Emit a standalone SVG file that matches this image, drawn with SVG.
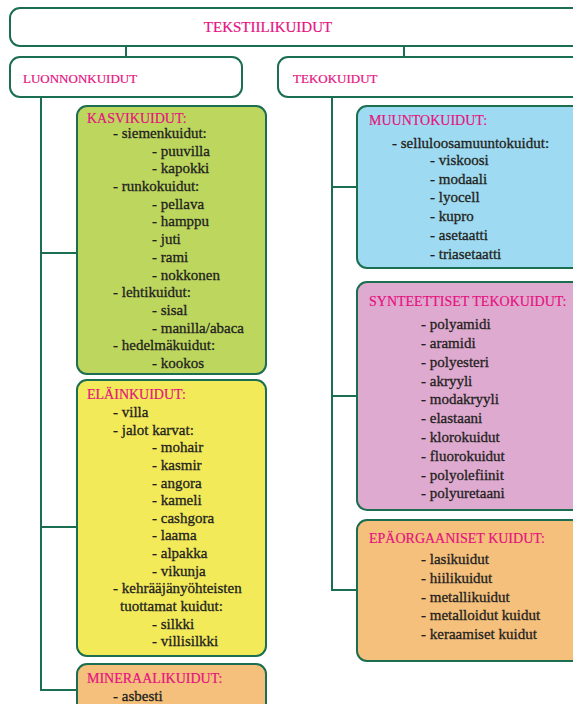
<svg xmlns="http://www.w3.org/2000/svg" width="573" height="704" viewBox="0 0 573 704">
<style>
.box{stroke:#1b6e4f;stroke-width:2}
.w{fill:#fff}
.g{fill:#bdd75e}
.y{fill:#f3ea5a}
.o{fill:#f5bf7c}
.b{fill:#9edbf2}
.p{fill:#dfaad0}
.t{font-family:"Liberation Serif","DejaVu Serif",serif;fill:#e5127f;stroke:#e5127f;stroke-width:0.2}
.h{font-size:14px}
.i{font-family:"Liberation Serif","DejaVu Serif",serif;font-size:15px;fill:#231f20;stroke:#231f20;stroke-width:0.3}
.c{fill:none;stroke:#1b6e4f;stroke-width:2}
</style>
<g id="connectors">
<path class="c" d="M126 46V57M404 46V57"/>
<path class="c" d="M41 97V690H77M41 253H77M41 527H77"/>
<path class="c" d="M332 97V590H357M332 187H357M332 396H357"/>
</g>
<g id="tekstiilikuidut">
<rect class="box w" x="10" y="8" width="580" height="38" rx="10"/>
<text class="t" x="268" y="32" font-size="15" text-anchor="middle">TEKSTIILIKUIDUT</text>
</g>
<g id="luonnonkuidut">
<rect class="box w" x="10" y="57" width="232" height="40" rx="10"/>
<text class="t" x="23" y="83" font-size="13">LUONNONKUIDUT</text>
</g>
<g id="tekokuidut">
<rect class="box w" x="278" y="57" width="310" height="40" rx="10"/>
<text class="t" x="293" y="83" font-size="13">TEKOKUIDUT</text>
</g>
<g id="kasvikuidut">
<rect class="box g" x="77" y="106" width="189" height="268" rx="10"/>
<text class="t h" x="87" y="123">KASVIKUIDUT:</text>
<text class="i" x="113" y="138">- siemenkuidut:</text>
<text class="i" x="152" y="156">- puuvilla</text>
<text class="i" x="152" y="173">- kapokki</text>
<text class="i" x="113" y="191">- runkokuidut:</text>
<text class="i" x="152" y="209">- pellava</text>
<text class="i" x="152" y="226">- hamppu</text>
<text class="i" x="152" y="244">- juti</text>
<text class="i" x="152" y="262">- rami</text>
<text class="i" x="152" y="280">- nokkonen</text>
<text class="i" x="113" y="297">- lehtikuidut:</text>
<text class="i" x="152" y="315">- sisal</text>
<text class="i" x="152" y="333">- manilla/abaca</text>
<text class="i" x="113" y="350">- hedelmäkuidut:</text>
<text class="i" x="152" y="368">- kookos</text>
</g>
<g id="elainkuidut">
<rect class="box y" x="77" y="380" width="189" height="276" rx="10"/>
<text class="t h" x="87" y="399">ELÄINKUIDUT:</text>
<text class="i" x="113" y="417">- villa</text>
<text class="i" x="113" y="435">- jalot karvat:</text>
<text class="i" x="152" y="452">- mohair</text>
<text class="i" x="152" y="470">- kasmir</text>
<text class="i" x="152" y="488">- angora</text>
<text class="i" x="152" y="505">- kameli</text>
<text class="i" x="152" y="523">- cashgora</text>
<text class="i" x="152" y="540">- laama</text>
<text class="i" x="152" y="558">- alpakka</text>
<text class="i" x="152" y="576">- vikunja</text>
<text class="i" x="113" y="593">- kehrääjänyöhteisten</text>
<text class="i" x="120" y="611">tuottamat kuidut:</text>
<text class="i" x="152" y="629">- silkki</text>
<text class="i" x="152" y="646">- villisilkki</text>
</g>
<g id="mineraalikuidut">
<rect class="box o" x="77" y="664" width="189" height="60" rx="10"/>
<text class="t h" x="87" y="683">MINERAALIKUIDUT:</text>
<text class="i" x="113" y="701">- asbesti</text>
</g>
<g id="muuntokuidut">
<rect class="box b" x="357" y="106" width="230" height="162" rx="10"/>
<text class="t h" x="369" y="125">MUUNTOKUIDUT:</text>
<text class="i" x="392" y="148">- selluloosamuuntokuidut:</text>
<text class="i" x="430" y="165">- viskoosi</text>
<text class="i" x="430" y="184">- modaali</text>
<text class="i" x="430" y="202">- lyocell</text>
<text class="i" x="430" y="221">- kupro</text>
<text class="i" x="430" y="240">- asetaatti</text>
<text class="i" x="430" y="259">- triasetaatti</text>
</g>
<g id="synteettiset">
<rect class="box p" x="357" y="282" width="230" height="228" rx="10"/>
<text class="t h" x="369" y="306">SYNTEETTISET TEKOKUIDUT:</text>
<text class="i" x="421" y="329">- polyamidi</text>
<text class="i" x="421" y="348">- aramidi</text>
<text class="i" x="421" y="367">- polyesteri</text>
<text class="i" x="421" y="386">- akryyli</text>
<text class="i" x="421" y="404">- modakryyli</text>
<text class="i" x="421" y="423">- elastaani</text>
<text class="i" x="421" y="442">- klorokuidut</text>
<text class="i" x="421" y="461">- fluorokuidut</text>
<text class="i" x="421" y="480">- polyolefiinit</text>
<text class="i" x="421" y="498">- polyuretaani</text>
</g>
<g id="epaorgaaniset">
<rect class="box o" x="357" y="520" width="230" height="141" rx="10"/>
<text class="t h" x="369" y="543">EPÄORGAANISET KUIDUT:</text>
<text class="i" x="421" y="564">- lasikuidut</text>
<text class="i" x="421" y="583">- hiilikuidut</text>
<text class="i" x="421" y="602">- metallikuidut</text>
<text class="i" x="421" y="620">- metalloidut kuidut</text>
<text class="i" x="421" y="639">- keraamiset kuidut</text>
</g>
</svg>
